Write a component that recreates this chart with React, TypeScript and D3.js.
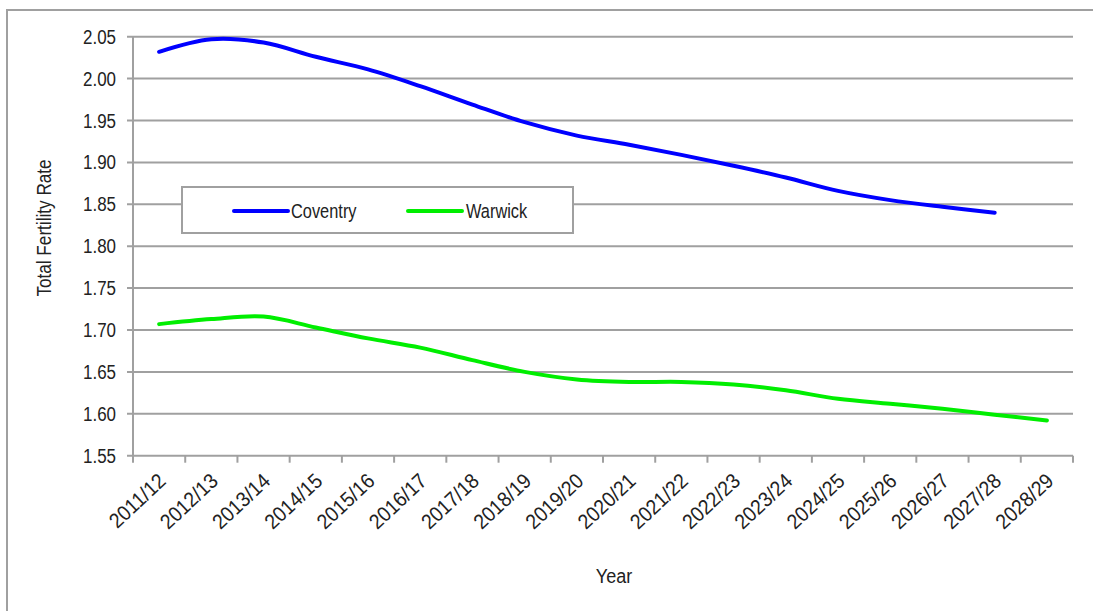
import React from "react";
import * as d3 from "d3";

const years = ["2011/12","2012/13","2013/14","2014/15","2015/16","2016/17","2017/18","2018/19","2019/20","2020/21","2021/22","2022/23","2023/24","2024/25","2025/26","2026/27","2027/28","2028/29"];
const coventry = [2.032,2.047,2.043,2.026,2.011,1.991,1.969,1.948,1.932,1.921,1.909,1.896,1.882,1.866,1.855,1.847,1.840];
const warwick = [1.707,1.713,1.716,1.703,1.690,1.679,1.664,1.650,1.641,1.638,1.638,1.635,1.628,1.618,1.612,1.606,1.599,1.592];
const yTicks = [1.55,1.60,1.65,1.70,1.75,1.80,1.85,1.90,1.95,2.00,2.05];

const W = 1093, H = 611;
const left = 133, right = 1073, top = 36.7, bottom = 455.7;
const GRID = "#a0a0a0";
const TXT = "#222";
const FONT = "'Liberation Sans', Arial, sans-serif";

export default function App() {
  const x = d3.scaleBand().domain(years).range([left, right]);
  const y = d3.scaleLinear().domain([1.55, 2.05]).range([bottom, top]);
  const cx = (i: number) => (x(years[i]) as number) + x.bandwidth() / 2;
  const line = d3.line<number>().x((_, i) => cx(i)).y(d => y(d)).curve(d3.curveCatmullRom.alpha(0.5));
  const tickXs = years.map(yr => x(yr) as number).concat([right]);

  return (
    <svg width={W} height={H} style={{ position: "absolute", left: 0, top: 0, background: "#fff" }}>
      <rect x={7} y={10} width={W + 20} height={H + 20} fill="#fff" stroke={GRID} strokeWidth={2} />
      {yTicks.map(t => (
        <g key={t}>
          <line x1={left - 6} x2={right} y1={y(t)} y2={y(t)} stroke={GRID} strokeWidth={2} />
          <text transform={`translate(${left - 17},${y(t) + 7}) scale(0.87,1)`} textAnchor="end" fontFamily={FONT} fontSize={19.5} fill={TXT}>{t.toFixed(2)}</text>
        </g>
      ))}
      <line x1={left} x2={left} y1={top} y2={bottom} stroke={GRID} strokeWidth={2} />
      {tickXs.map((tx, i) => (
        <line key={i} x1={tx} x2={tx} y1={bottom} y2={bottom + 7} stroke={GRID} strokeWidth={2} />
      ))}
      {years.map((yr, i) => (
        <text key={yr} transform={`translate(${cx(i) + 8},${bottom + 27}) rotate(-43) scale(0.92,1)`} textAnchor="end" fontFamily={FONT} fontSize={21} fill={TXT}>{yr}</text>
      ))}
      <path d={line(coventry) as string} fill="none" stroke="#0000ff" strokeWidth={4} strokeLinecap="round" />
      <path d={line(warwick) as string} fill="none" stroke="#00ee00" strokeWidth={4} strokeLinecap="round" />
      <g>
        <rect x={182} y={187} width={391} height={46} fill="#fff" stroke={GRID} strokeWidth={2} />
        <line x1={234} x2={288} y1={211} y2={211} stroke="#0000ff" strokeWidth={4} strokeLinecap="round" />
        <text transform={`translate(291,218) scale(0.84,1)`} fontFamily={FONT} fontSize={19.5} fill={TXT}>Coventry</text>
        <line x1={408} x2={462} y1={211} y2={211} stroke="#00ee00" strokeWidth={4} strokeLinecap="round" />
        <text transform={`translate(466,218) scale(0.84,1)`} fontFamily={FONT} fontSize={19.5} fill={TXT}>Warwick</text>
      </g>
      <text transform={`translate(51,228) rotate(-90) scale(0.88,1)`} textAnchor="middle" fontFamily={FONT} fontSize={19.5} fill={TXT}>Total Fertility Rate</text>
      <text transform={`translate(614,583) scale(0.86,1)`} textAnchor="middle" fontFamily={FONT} fontSize={21} fill={TXT}>Year</text>
    </svg>
  );
}
